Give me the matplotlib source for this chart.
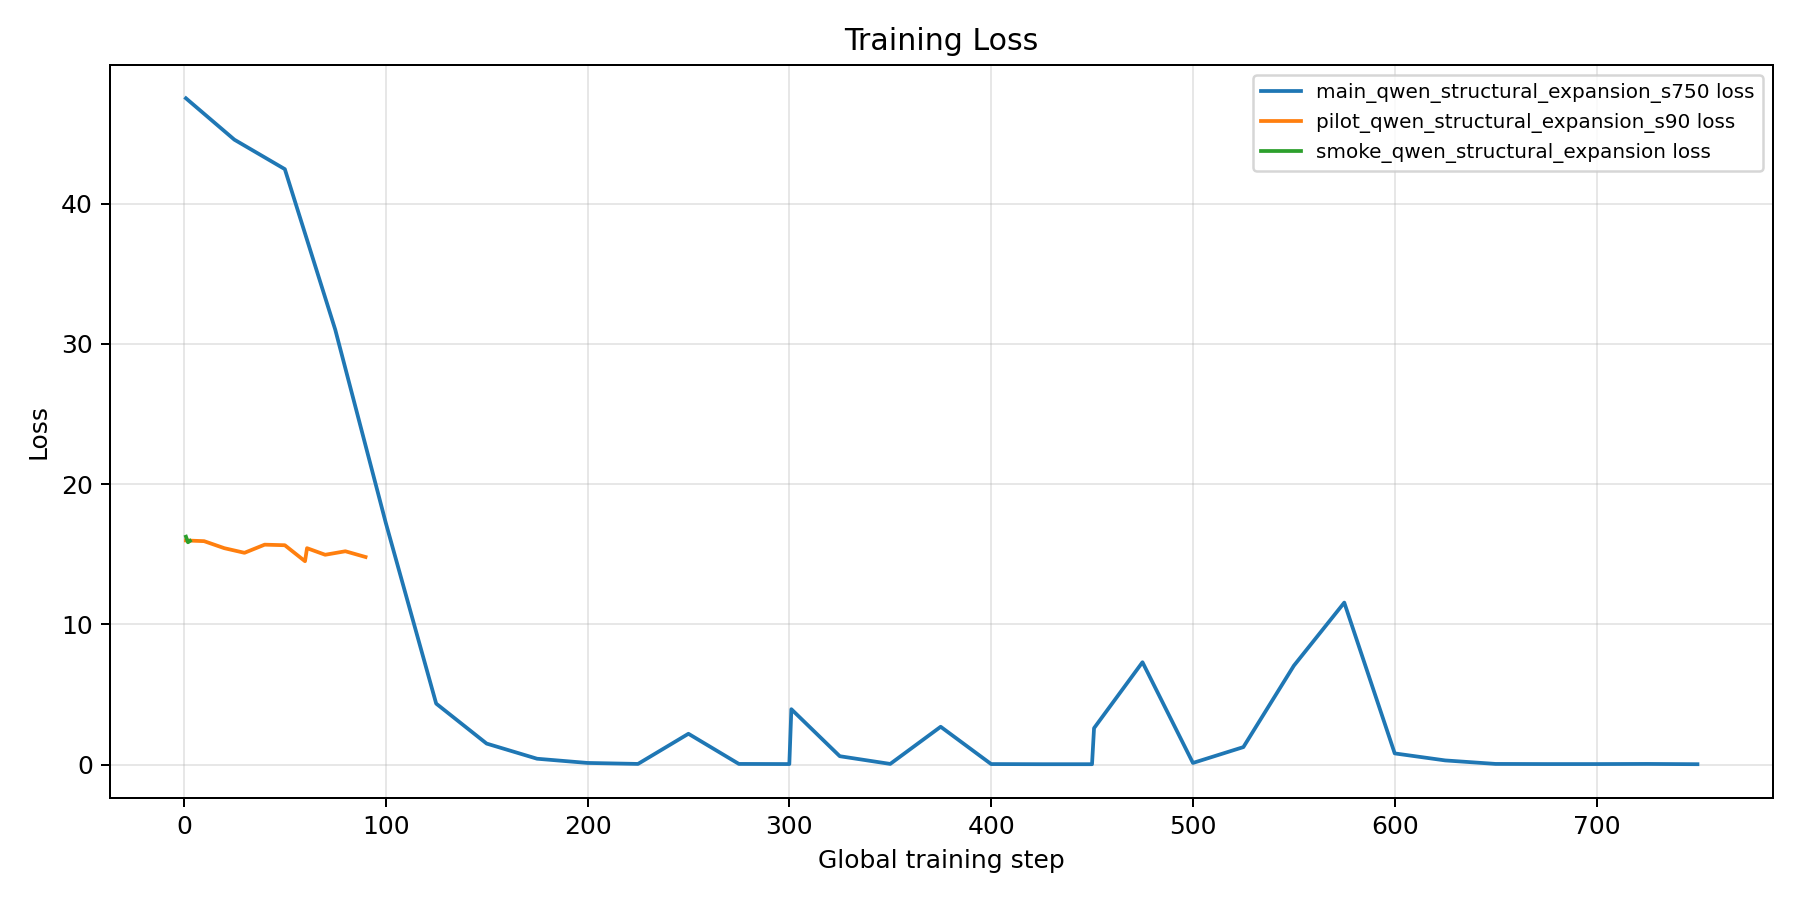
import matplotlib
matplotlib.use("Agg")
import matplotlib.pyplot as plt

# main run, logged every 25 steps (plus the resume points 301 / 451)
main_steps = [1, 25, 50, 75, 100, 125, 150, 175, 200, 225, 250, 275, 300, 301,
              325, 350, 375, 400, 425, 450, 451, 475, 500, 525, 550, 575, 600,
              625, 650, 675, 700, 725, 750]
main_loss = [47.5, 44.55, 42.45, 31.0, 17.25, 4.35, 1.5, 0.42, 0.12, 0.05, 2.2,
             0.05, 0.04, 3.95, 0.6, 0.05, 2.7, 0.04, 0.03, 0.03, 2.6, 7.3, 0.12,
             1.25, 7.05, 11.55, 0.8, 0.3, 0.05, 0.04, 0.04, 0.05, 0.03]

pilot_steps = [1, 10, 20, 30, 40, 50, 60, 61, 70, 80, 90]
pilot_loss = [15.98, 15.93, 15.43, 15.1, 15.68, 15.64, 14.5, 15.43, 14.96, 15.21, 14.8]

smoke_steps = [1, 2, 3]
smoke_loss = [16.25, 15.85, 15.95]

fig, ax = plt.subplots(figsize=(10, 5), dpi=180)
ax.plot(main_steps, main_loss, label="main_qwen_structural_expansion_s750 loss")
ax.plot(pilot_steps, pilot_loss, label="pilot_qwen_structural_expansion_s90 loss")
ax.plot(smoke_steps, smoke_loss, label="smoke_qwen_structural_expansion loss")

ax.set_title("Training Loss")
ax.set_xlabel("Global training step")
ax.set_ylabel("Loss")
ax.grid(True, alpha=0.3)
ax.legend(loc="upper right", fontsize=8)

plt.tight_layout()
plt.savefig("out.png")
